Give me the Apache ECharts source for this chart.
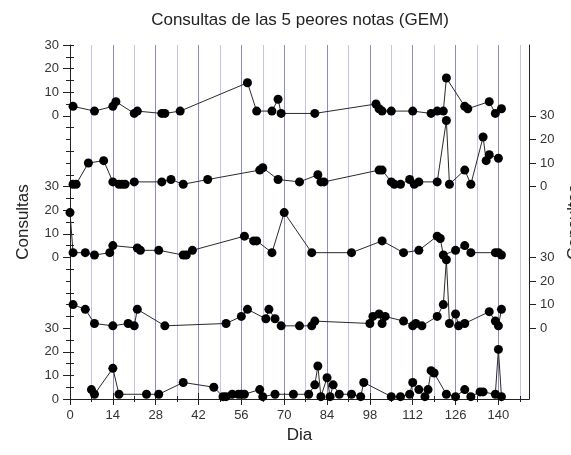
<!DOCTYPE html>
<html><head><meta charset="utf-8">
<script src="https://cdn.jsdelivr.net/npm/echarts@6/dist/echarts.min.js"></script>
<style>html,body{margin:0;padding:0;background:#fff}#c{width:571px;height:455px}</style>
</head><body><div id="c"></div>
<script>
// ---- data: [dia, consultas] for each of the 5 notes (top to bottom) ----
const nota1 = [[1,4],[8,2],[14,4],[15,6],[21,1],[22,2],[30,1],[31,1],[36,2],[58,14],[61,2],[66,2],[68,7],[69,1],[80,1],[100,5],[101,3],[102,2],[105,2],[112,2],[118,1],[120,2],[122,2],[123,16],[129,4],[130,3],[137,6],[139,1],[141,3]];
const nota2 = [[1,1],[2,1],[6,10],[11,11],[14,2],[16,1],[17,1],[18,1],[21,2],[30,2],[33,3],[37,1],[45,3],[62,7],[63,8],[68,3],[75,2],[81,5],[82,2],[83,2],[101,7],[102,7],[105,2],[106,1],[108,1],[111,3],[112.5,1],[114,2],[120,2],[123,28],[124,1],[129,7],[131,1],[135,21],[136,11],[137,13.5],[140,12]];
const nota3 = [[0,19],[1,2],[5,2],[8,1],[13,2],[14,5],[22,4],[23,3],[29,3],[37,1],[38,1],[40,3],[57,9],[60,7],[61,7],[66,2],[70,19],[79,2],[92,2],[102,7],[109,2],[114,3],[120,9],[121,8],[122,1],[126,3],[129,5],[131,2],[139,2],[140,2],[141,1]];
const nota4 = [[1,10],[5,8],[8,2],[14,1],[19,2],[21,1],[22,8],[31,1],[51,2],[56,5],[58,8],[64,4],[65,8],[67,4],[69,1],[75,1],[79,1],[80,3],[98,2],[99,5],[101,6],[102,2],[103,5],[109,3],[112,1],[113,2],[115,1],[120,5],[122,10],[123,29],[124,2],[126,6],[127,1],[129,2],[137,7],[139,3],[140,1],[141,8]];
const nota5 = [[7,4],[8,2],[14,13],[16,2],[25,2],[29,2],[37,7],[47,5],[50,1],[51,1],[53,2],[55,2],[56,2],[57,2],[62,4],[63,1],[67,2],[73,2],[78,2],[80,6],[81,14],[82,1],[84,9],[85,1],[86,6],[88,2],[92,2],[95,1],[96,7],[105,1],[108,1],[111,2],[112,7],[114,4],[116,1],[117,4],[118,12],[119,11],[123,2],[126,1],[129,4],[131,1],[134,3],[135,3],[139,2],[140,21],[141,1]];
const panelData = [nota1, nota2, nota3, nota4, nota5];
const panelOffsets = [120, 90, 60, 30, 0];

// ---- tick labels ----
const xMajorTicks = [0,14,28,42,56,70,84,98,112,126,140];
const xMinorTicks = [7,21,35,49,63,77,91,105,119,133,147];
const leftTickTotals = [0,10,20,30,60,70,80,90,120,130,140,150];
const leftTickLabels = ['0','10','20','30','0','10','20','30','0','10','20','30'];
const rightTickTotals = [30,40,50,60,90,100,110,120];
const rightTickLabels = ['0','10','20','30','0','10','20','30'];

const FONT = 'Liberation Sans, Arial, sans-serif';
const AX = '#222';
const all5 = [];
for (let v = 0; v <= 150; v += 5) all5.push(v);
const leftShort = all5.filter(v => leftTickTotals.indexOf(v) < 0);
const rightShort = all5.filter(v => rightTickTotals.indexOf(v) < 0);

function lab(totals, labels) {
  return v => { const i = totals.indexOf(v); return i < 0 ? '' : labels[i]; };
}

const baseX = {type: 'value', min: 0, max: 150, interval: 7, gridIndex: 0};
const baseY = {type: 'value', min: 0, max: 150, interval: 5, gridIndex: 0};

const chart = echarts.init(document.getElementById('c'), null, {renderer: 'canvas'});
chart.setOption({
  animation: false,
  backgroundColor: '#fff',
  graphic: [{type: 'text', x: 300, y: 20, style: {text: 'Consultas de las 5 peores notas (GEM)', font: '17px ' + FONT, fill: '#222', textAlign: 'center', textVerticalAlign: 'middle'}}],
  grid: {left: 70, right: 42, top: 45, bottom: 56, containLabel: false, outerBoundsMode: 'none'},
  xAxis: [
    Object.assign({}, baseX, {position: 'bottom',
      axisLine: {show: false},
      axisTick: {show: true, length: 3, customValues: xMinorTicks, lineStyle: {color: AX}},
      axisLabel: {show: false},
      splitLine: {show: true, lineStyle: {color: '#c4c4ec', width: 1}}}),
    Object.assign({}, baseX, {position: 'bottom', interval: 14,
      name: 'Dia', nameLocation: 'middle', nameGap: 28,
      nameTextStyle: {fontSize: 17, color: '#222', fontFamily: FONT},
      axisLine: {show: true, lineStyle: {color: AX, width: 1}},
      axisTick: {show: true, length: 6, customValues: xMajorTicks, lineStyle: {color: AX}},
      axisLabel: {show: true, customValues: xMajorTicks, margin: 10, fontSize: 13, color: '#333', fontFamily: FONT,
        formatter: v => (xMajorTicks.indexOf(v) < 0 ? '' : String(v))},
      splitLine: {show: true, lineStyle: {color: '#8c8cc4', width: 1}}}),
    Object.assign({}, baseX, {position: 'top',
      axisLine: {show: true, lineStyle: {color: AX, width: 1}},
      axisTick: {show: true, length: 3, customValues: xMinorTicks, lineStyle: {color: AX}},
      axisLabel: {show: false}, splitLine: {show: false}}),
    Object.assign({}, baseX, {position: 'top',
      axisLine: {show: false},
      axisTick: {show: true, length: 6, customValues: xMajorTicks, lineStyle: {color: AX}},
      axisLabel: {show: false}, splitLine: {show: false}})
  ],
  yAxis: [
    Object.assign({}, baseY, {position: 'left', interval: 10,
      name: 'Consultas', nameLocation: 'middle', nameGap: 38,
      nameTextStyle: {fontSize: 17, color: '#222', fontFamily: FONT},
      axisLine: {show: true, lineStyle: {color: AX, width: 1}},
      axisTick: {show: true, length: 7, customValues: leftTickTotals, lineStyle: {color: AX}},
      axisLabel: {show: true, customValues: leftTickTotals, margin: 11, fontSize: 13, color: '#333', fontFamily: FONT,
        formatter: lab(leftTickTotals, leftTickLabels)},
      splitLine: {show: false}}),
    Object.assign({}, baseY, {position: 'left', offset: 0,
      axisLine: {show: false},
      axisTick: {show: true, length: 4, customValues: leftShort, lineStyle: {color: AX}},
      axisLabel: {show: false}, splitLine: {show: false}}),
    Object.assign({}, baseY, {position: 'right', interval: 10, offset: 0,
      name: 'Consultas', nameLocation: 'middle', nameGap: 27,
      nameTextStyle: {fontSize: 17, color: '#222', fontFamily: FONT},
      axisLine: {show: true, onZero: false, lineStyle: {color: AX, width: 1}},
      axisTick: {show: true, length: 7, customValues: rightTickTotals, lineStyle: {color: AX}},
      axisLabel: {show: true, customValues: rightTickTotals, margin: 11, fontSize: 13, color: '#333', fontFamily: FONT,
        formatter: lab(rightTickTotals, rightTickLabels)},
      splitLine: {show: false}}),
    Object.assign({}, baseY, {position: 'right', offset: 0,
      axisLine: {show: false},
      axisTick: {show: true, length: 4, customValues: rightShort, lineStyle: {color: AX}},
      axisLabel: {show: false}, splitLine: {show: false}})
  ],
  series: panelData.map((d, k) => ({
    type: 'line', xAxisIndex: 1, yAxisIndex: 0, clip: false,
    data: d.map(p => [p[0], p[1] + panelOffsets[k]]),
    symbol: 'circle', symbolSize: 9, showSymbol: true, showAllSymbol: true,
    itemStyle: {color: '#000'},
    lineStyle: {color: '#2a2a2a', width: 1},
    emphasis: {disabled: true}, z: 3
  }))
});
</script></body></html>
